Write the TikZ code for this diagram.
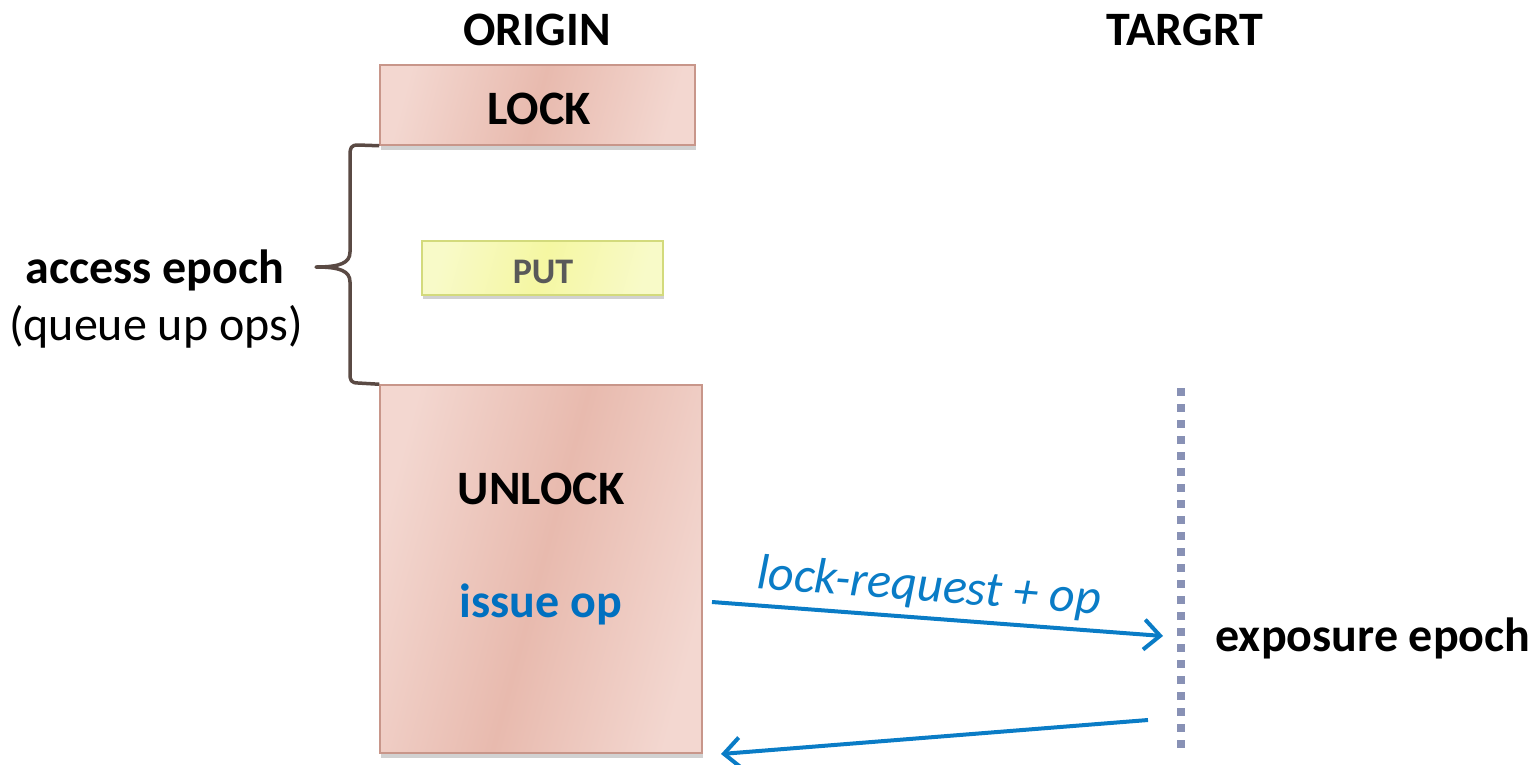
\documentclass[tikz,border=0pt]{standalone}
\usepackage{fontspec}
\setmainfont{Carlito}
\usetikzlibrary{arrows.meta,shadows}

\definecolor{pinkL}{HTML}{F3D7D0}
\definecolor{pinkD}{HTML}{E8BAAE}
\definecolor{pinkB}{HTML}{C8968A}
\definecolor{yelL}{HTML}{F8FAC8}
\definecolor{yelD}{HTML}{F5F7A2}
\definecolor{yelB}{HTML}{D3DA7C}
\definecolor{msgblue}{HTML}{0A7CC6}
\definecolor{txtblue}{HTML}{0070C0}
\definecolor{dotcol}{HTML}{8891B5}
\definecolor{bracecol}{HTML}{5A4A44}
\definecolor{putgray}{HTML}{595959}

\tikzset{
  epochbox/.style={draw=pinkB, line width=1.5pt, top color=pinkL, bottom color=pinkL,
    middle color=pinkD, shading angle=75, inner sep=0pt,
    drop shadow={shadow xshift=1pt, shadow yshift=-5pt, opacity=0.3, fill=black!60}},
  opbox/.style={draw=yelB, line width=1.5pt, top color=yelL, bottom color=yelL,
    middle color=yelD, shading angle=75, inner sep=0pt,
    drop shadow={shadow xshift=1pt, shadow yshift=-4pt, opacity=0.3, fill=black!60}},
  heading/.style={font=\fontsize{48}{56}\selectfont\bfseries},
  msg/.style={draw=msgblue, line width=4pt, -{Straight Barb[length=16pt,width=30pt,line width=4pt]}},
}

\begin{document}
\begin{tikzpicture}[x=1pt,y=-1pt]
\useasboundingbox (0,0) rectangle (1537,764);

% column headings
\node[heading] (origin) at (537,30) {ORIGIN};
\node[heading] (target) at (1185,30) {TARGRT};

% boxes on the origin side
\node[epochbox, minimum width=315pt, minimum height=80pt] (lock) at (537.5,105) {};
\node[heading] (locktxt) at (539,109) {LOCK};
\node[opbox, minimum width=241pt, minimum height=54pt] (put) at (542.5,268) {};
\node[font=\fontsize{36}{42}\selectfont\bfseries, text=putgray] (puttxt) at (543,272) {PUT};
\node[epochbox, minimum width=322pt, minimum height=368pt] (unlock) at (541,569) {};
\node[heading] (unlocktxt) at (541,489) {UNLOCK};
\node[heading, text=txtblue] (issue) at (541,604) {issue op};

% brace marking the access epoch
\coordinate (btop) at (lock.south west);
\coordinate (bbot) at (unlock.north west);
\coordinate (btip) at (316,267);
\draw[bracecol, line width=3.5pt, line join=round]
  (btop) -- (358,145) .. controls (351,145) and (350,148) .. (350,155)
  -- (350,252) .. controls (350,263) and (340,267) .. (btip)
  .. controls (340,267) and (350,271) .. (350,282)
  -- (350,374) .. controls (350,380) and (351,383) .. (358,383) -- (bbot);
\node[heading, anchor=east] (access) at (288,270) {access epoch};
\node[font=\fontsize{48}{56}\selectfont] (queue) at (156,327) {(queue up ops)};

% target timeline
\coordinate (ttop) at (1181,388);
\coordinate (tbot) at (1181,752);
\draw[dotcol, line width=8pt, dash pattern=on 8pt off 8pt] (ttop) -- (tbot);
\node[heading, anchor=west] (expo) at (1212,638) {exposure epoch};

% messages
\coordinate (m1s) at (712,602);
\coordinate (m1e) at (1163,636);
\coordinate (m2s) at (1148,720);
\coordinate (m2e) at (721,754);
\draw[msg] (m1s) -- (m1e);
\draw[msg] (m2s) -- (m2e);
\node[font=\fontsize{50}{58}\selectfont\itshape, text=msgblue, rotate=-4.3] (lbl) at (929,588) {lock-request + op};
\end{tikzpicture}
\end{document}
